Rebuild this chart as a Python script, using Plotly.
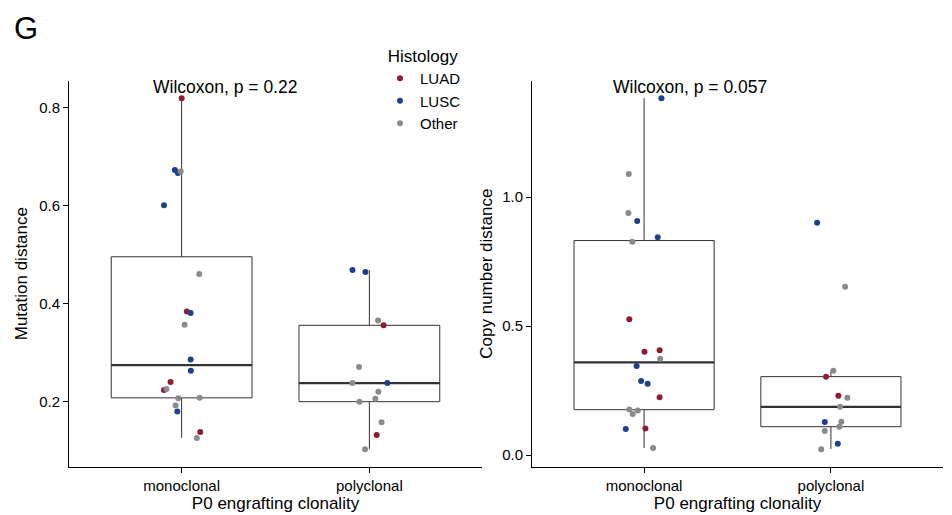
import numpy as np
import plotly.graph_objects as go

# ---------------- data ----------------
categories = ["monoclonal", "polyclonal"]
hist_order = ["LUAD", "LUSC", "Other"]
hist_colors = {"LUAD": "#8E1B33", "LUSC": "#1D3F8C", "Other": "#8A8A8A"}

# Mutation distance
mut_mono_val = [0.820, 0.673, 0.667, 0.670, 0.601, 0.461, 0.384, 0.381, 0.357, 0.286,
                0.263, 0.240, 0.226, 0.224, 0.207, 0.208, 0.192, 0.180, 0.138, 0.126]
mut_mono_hist = ["LUAD", "LUSC", "LUSC", "Other", "LUSC", "Other", "LUAD", "LUSC", "Other", "LUSC",
                 "LUSC", "LUAD", "Other", "LUAD", "Other", "Other", "Other", "LUSC", "LUAD", "Other"]
mut_mono_jit = [0.00, -0.036, -0.020, -0.005, -0.094, 0.094, 0.028, 0.048, 0.016, 0.048,
                0.049, -0.059, -0.081, -0.094, -0.018, 0.096, -0.032, -0.023, 0.099, 0.081]

mut_poly_val = [0.469, 0.465, 0.366, 0.356, 0.271, 0.238, 0.238, 0.220, 0.206, 0.200, 0.158, 0.132, 0.103]
mut_poly_hist = ["LUSC", "LUSC", "Other", "LUAD", "Other", "Other", "LUSC", "Other", "Other", "Other",
                 "Other", "LUAD", "Other"]
mut_poly_jit = [-0.090, -0.021, 0.046, 0.076, -0.055, -0.090, 0.096, 0.048, 0.032, -0.053, 0.065, 0.039, -0.023]

# Copy number distance
cn_mono_val = [1.383, 1.089, 0.938, 0.907, 0.844, 0.827, 0.526, 0.400, 0.406, 0.373,
               0.345, 0.287, 0.276, 0.224, 0.177, 0.173, 0.159, 0.101, 0.103, 0.027]
cn_mono_hist = ["LUSC", "Other", "Other", "LUSC", "LUSC", "Other", "LUAD", "LUAD", "LUAD", "Other",
                "LUSC", "LUSC", "LUSC", "LUAD", "Other", "Other", "Other", "LUSC", "LUAD", "Other"]
cn_mono_jit = [0.093, -0.082, -0.084, -0.037, 0.073, -0.063, -0.079, 0.002, 0.083, 0.086,
               -0.040, -0.016, 0.019, 0.083, -0.079, -0.034, -0.061, -0.098, 0.007, 0.048]

cn_poly_val = [0.900, 0.652, 0.327, 0.304, 0.230, 0.222, 0.187, 0.128, 0.129, 0.110, 0.093, 0.044, 0.023]
cn_poly_hist = ["LUSC", "Other", "Other", "LUAD", "LUAD", "Other", "Other", "LUSC", "Other", "Other",
                "Other", "LUSC", "Other"]
cn_poly_jit = [-0.074, 0.076, 0.013, -0.026, 0.040, 0.088, 0.049, -0.033, 0.056, 0.045, -0.033, 0.037, -0.052]

p_labels = ["Wilcoxon, p = 0.22", "Wilcoxon, p = 0.057"]
y_titles = ["Mutation distance", "Copy number distance"]
x_title = "P0 engrafting clonality"
panel_tag = "G"

panels = [
    [(mut_mono_val, mut_mono_hist, mut_mono_jit), (mut_poly_val, mut_poly_hist, mut_poly_jit)],
    [(cn_mono_val, cn_mono_hist, cn_mono_jit), (cn_poly_val, cn_poly_hist, cn_poly_jit)],
]

# ---------------- figure ----------------
FONT = "Liberation Sans, Arial, Helvetica, sans-serif"
BOX_W = 0.75
fig = go.Figure()


def box_stats(v):
    a = np.asarray(v, dtype=float)
    q1, med, q3 = np.percentile(a, [25, 50, 75])
    iqr = q3 - q1
    lo = a[a >= q1 - 1.5 * iqr].min()
    hi = a[a <= q3 + 1.5 * iqr].max()
    return q1, med, q3, lo, hi


for pi, groups in enumerate(panels):
    xa = "x" if pi == 0 else "x2"
    ya = "y" if pi == 0 else "y2"
    # boxes
    for gi, (vals, hists, jits) in enumerate(groups):
        xc = gi + 1
        q1, med, q3, lo, hi = box_stats(vals)
        fig.add_trace(go.Box(
            x=[xc], q1=[q1], median=[med], q3=[q3], lowerfence=[lo], upperfence=[hi],
            width=BOX_W, whiskerwidth=0, boxpoints=False,
            fillcolor="white", line=dict(color="#333333", width=1),
            showlegend=False, hoverinfo="skip", xaxis=xa, yaxis=ya,
        ))
        fig.add_trace(go.Scatter(
            x=[xc - BOX_W / 2, xc + BOX_W / 2], y=[med, med], mode="lines",
            line=dict(color="#333333", width=2.2), showlegend=False, hoverinfo="skip",
            xaxis=xa, yaxis=ya,
        ))
    # points
    for h in hist_order:
        xs, ys = [], []
        for gi, (vals, hists, jits) in enumerate(groups):
            for v, hh, j in zip(vals, hists, jits):
                if hh == h:
                    xs.append(gi + 1 + j)
                    ys.append(v)
        fig.add_trace(go.Scatter(
            x=xs, y=ys, mode="markers", name=h,
            showlegend=(pi == 0),
            marker=dict(color=hist_colors[h], size=6, line=dict(width=0)),
            xaxis=xa, yaxis=ya,
        ))


def yrange(groups):
    allv = [v for g in groups for v in g[0]]
    lo, hi = min(allv), max(allv)
    r = hi - lo
    return [lo - 0.05 * r, hi + 0.05 * r]


H = 515
ydom = [(515 - 466.7) / H, (515 - 80.6) / H]
axis_common = dict(showline=True, linecolor="black", linewidth=1, ticks="outside",
                   ticklen=5, tickcolor="black", tickwidth=1, showgrid=False, zeroline=False,
                   tickfont=dict(family=FONT, size=15, color="black"), automargin=False)
TITLE_SIZE = 17

fig.update_layout(
    width=952, height=515, margin=dict(l=0, r=0, t=0, b=0),
    paper_bgcolor="white", plot_bgcolor="white",
    font=dict(family=FONT, color="black"),
    xaxis=dict(domain=[69 / 952, 482 / 952], range=[0.4, 2.6], tickvals=[1, 2], ticktext=categories,
               title=dict(text=x_title, font=dict(size=TITLE_SIZE, family=FONT), standoff=4), anchor="y", **axis_common),
    xaxis2=dict(domain=[532 / 952, 943 / 952], range=[0.4, 2.6], tickvals=[1, 2], ticktext=categories,
                title=dict(text=x_title, font=dict(size=TITLE_SIZE, family=FONT), standoff=4), anchor="y2", **axis_common),
    yaxis=dict(domain=ydom, range=yrange(panels[0]), tickvals=[0.2, 0.4, 0.6, 0.8], ticktext=["0.2", "0.4", "0.6", "0.8"],
               title=dict(text=y_titles[0], font=dict(size=TITLE_SIZE, family=FONT), standoff=7), anchor="x", **axis_common),
    yaxis2=dict(domain=ydom, range=yrange(panels[1]), tickvals=[0.0, 0.5, 1.0], ticktext=["0.0", "0.5", "1.0"],
                title=dict(text=y_titles[1], font=dict(size=TITLE_SIZE, family=FONT), standoff=5), anchor="x2", **axis_common),
    legend=dict(x=380 / 952, xanchor="left", y=1 - 40 / 515, yanchor="top",
                title=dict(text="Histology", side="top center", font=dict(size=17, family=FONT)),
                font=dict(size=15, family=FONT), bgcolor="rgba(0,0,0,0)", itemwidth=30,
                tracegroupgap=0),
)

fig.add_annotation(text=p_labels[0], x=1.23, y=(466.7 - 87) / 386.1, xref="x", yref="y domain",
                   showarrow=False, font=dict(size=17.5, family=FONT), xanchor="center", yanchor="middle")
fig.add_annotation(text=p_labels[1], x=1.245, y=(466.7 - 87) / 386.1, xref="x2", yref="y2 domain",
                   showarrow=False, font=dict(size=17.5, family=FONT), xanchor="center", yanchor="middle")
fig.add_annotation(text=panel_tag, x=12 / 952, y=1 - 28 / 515, xref="paper", yref="paper",
                   showarrow=False, font=dict(size=31, family=FONT), xanchor="left", yanchor="middle")

fig.write_html("out.html")
